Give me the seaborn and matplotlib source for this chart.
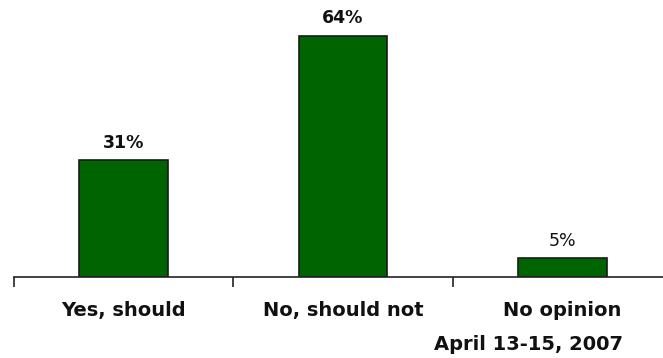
import matplotlib
matplotlib.use("Agg")
import matplotlib.pyplot as plt
import seaborn as sns
import pandas as pd

categories = ["Yes, should", "No, should not", "No opinion"]
values = [31, 64, 5]
value_labels = ["31%", "64%", "5%"]
note = "April 13-15, 2007"

sns.set_theme(style="white")
plt.rcParams['font.family'] = ['DejaVu Sans']

df = pd.DataFrame({"category": categories, "value": values})

W, H = 663, 358
fig = plt.figure(figsize=(W / 100, H / 100), dpi=100)
ax = fig.add_axes([14 / W, (H - 277) / H, 658 / W, 277 / H])

sns.barplot(data=df, x="category", y="value", color="#006400", saturation=1,
            width=0.405, edgecolor="#1a1a1a", linewidth=1.2, ax=ax)

ax.set_xlim(-0.5, 2.5)
ax.set_ylim(0, 73.5)
for s in ["top", "left", "right"]:
    ax.spines[s].set_visible(False)
ax.spines["bottom"].set_color("#222222")
ax.spines["bottom"].set_linewidth(1.2)
ax.set_yticks([])
ax.set_xlabel("")
ax.set_ylabel("")
ax.tick_params(axis="x", which="major", length=0, pad=17)
ax.set_xticks(range(len(categories)))
ax.set_xticklabels(categories, fontsize=14, fontweight="bold", color="#111111")
ax.set_xticks([-0.5, 0.5, 1.5, 2.5], minor=True)
ax.tick_params(axis="x", which="minor", length=7, width=1.2, color="#222222", direction="out", bottom=True)

weights = ["bold", "bold", "normal"]
for i, (v, lab) in enumerate(zip(values, value_labels)):
    ax.annotate(lab, (i, v), xytext=(0, 9), textcoords="offset points",
                ha="center", va="baseline", fontsize=12.5, fontweight=weights[i], color="#111111")

fig.text(528 / W, (H - 350) / H, note, ha="center", va="baseline",
         fontsize=14, fontweight="bold", color="#111111")

fig.savefig("out.png", dpi=100)
